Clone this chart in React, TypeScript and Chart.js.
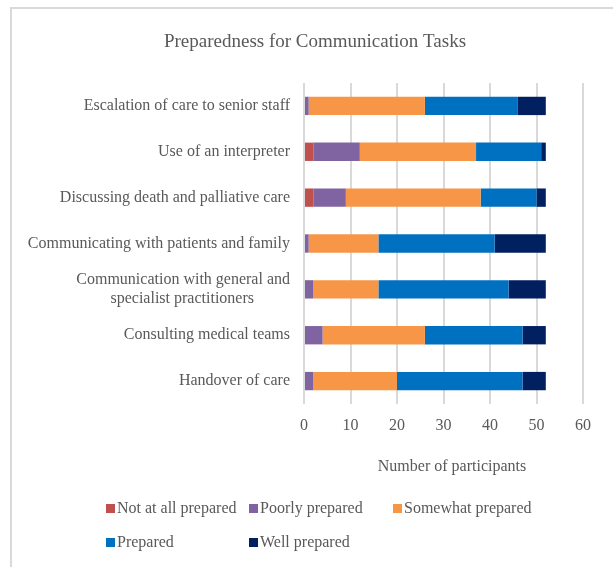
import React, { useEffect, useRef } from "react";
import { Chart, registerables } from "chart.js";

Chart.register(...registerables);

const categories: (string | string[])[] = [
  "Escalation of care to senior staff",
  "Use of an interpreter",
  "Discussing death and palliative care",
  "Communicating with patients and family",
  ["Communication with general and", "specialist practitioners         "],
  "Consulting medical teams",
  "Handover of care",
];

const notAtAll = [0, 2, 2, 0, 0, 0, 0];
const poorly = [1, 10, 7, 1, 2, 4, 2];
const somewhat = [25, 25, 29, 15, 14, 22, 18];
const prepared = [20, 14, 12, 25, 28, 21, 27];
const well = [6, 1, 2, 11, 8, 5, 5];

const seriesNames = [
  "Not at all prepared",
  "Poorly prepared",
  "Somewhat prepared",
  "Prepared",
  "Well prepared",
];
const seriesColors = ["#C0504D", "#8064A2", "#F79646", "#0070C0", "#002060"];
const xTicks = [0, 10, 20, 30, 40, 50, 60];

const titleText = "Preparedness for Communication Tasks";
const xAxisTitle = "Number of participants";

const FONT = "'Liberation Serif', 'Times New Roman', serif";
const TEXT = "#595959";

const decorPlugin = {
  id: "decor",
  beforeDraw(chart: any) {
    const ctx = chart.ctx;
    ctx.save();
    ctx.fillStyle = "#ffffff";
    ctx.fillRect(0, 0, chart.width, chart.height);
    ctx.fillStyle = "#d9d9d9";
    ctx.fillRect(10, 7, chart.width - 10, 2);
    ctx.fillRect(10, 7, 2, chart.height - 7);
    ctx.restore();
  },
  afterDraw(chart: any) {
    const ctx = chart.ctx;
    ctx.save();
    ctx.fillStyle = TEXT;
    ctx.textBaseline = "middle";
    ctx.textAlign = "center";
    ctx.font = `19px ${FONT}`;
    ctx.fillText(titleText, 315, 42);
    ctx.font = `16px ${FONT}`;
    ctx.fillText(xAxisTitle, 452, 467);
    // legend
    const cols = [106, 249, 393];
    const rows = [509, 543];
    ctx.textAlign = "left";
    seriesNames.forEach((name, i) => {
      const x = cols[i % 3];
      const y = rows[Math.floor(i / 3)];
      ctx.fillStyle = seriesColors[i];
      ctx.fillRect(x, y - 5, 9, 9);
      ctx.fillStyle = TEXT;
      ctx.fillText(name, x + 11, y);
    });
    ctx.restore();
  },
};

export default function App() {
  const ref = useRef<HTMLCanvasElement>(null);
  useEffect(() => {
    if (!ref.current) return;
    const data = [notAtAll, poorly, somewhat, prepared, well];
    const chart = new Chart(ref.current, {
      type: "bar",
      data: {
        labels: categories as any,
        datasets: data.map((d, i) => ({
          label: seriesNames[i],
          data: d,
          backgroundColor: seriesColors[i],
          borderWidth: 0,
          barPercentage: 0.4,
          categoryPercentage: 1,
        })),
      },
      options: {
        indexAxis: "y",
        animation: false,
        responsive: false,
        devicePixelRatio: 1,
        layout: { padding: { top: 83, right: 30, left: 0, bottom: 0 } },
        plugins: {
          legend: { display: false },
          title: { display: false },
          tooltip: { enabled: false },
        },
        scales: {
          x: {
            stacked: true,
            min: 0,
            max: 60,
            afterBuildTicks: (scale: any) => {
              scale.ticks = xTicks.map((v) => ({ value: v }));
            },
            afterFit: (scale: any) => {
              scale.height = 163;
            },
            grid: { color: "#d9d9d9", lineWidth: 2, drawTicks: false },
            border: { display: false },
            ticks: {
              color: TEXT,
              font: { family: FONT, size: 16 },
              padding: 12,
            },
          },
          y: {
            stacked: true,
            afterFit: (scale: any) => {
              scale.width = 304;
            },
            grid: { display: false },
            border: { display: false },
            ticks: {
              color: TEXT,
              font: { family: FONT, size: 16, lineHeight: 1.15 },
              padding: 6,
            },
          },
        },
      },
      plugins: [decorPlugin],
    });
    return () => chart.destroy();
  }, []);
  return (
    <div style={{ position: "fixed", left: 0, top: 0, width: 613, height: 567 }}>
      <canvas ref={ref} width={613} height={567} style={{ display: "block" }} />
    </div>
  );
}
